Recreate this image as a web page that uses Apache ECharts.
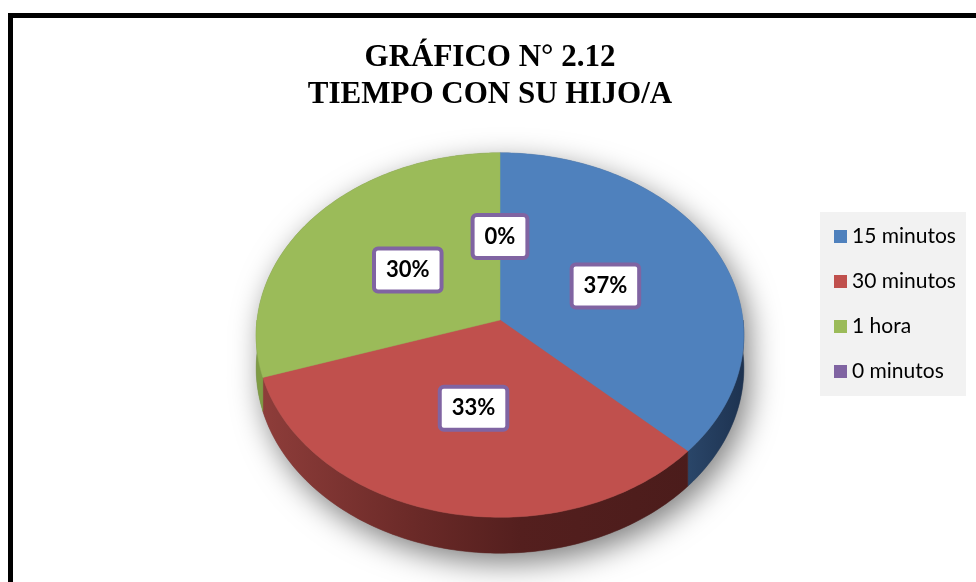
<!DOCTYPE html>
<html>
<head>
<meta charset="utf-8">
<script src="https://cdn.jsdelivr.net/npm/echarts@6/dist/echarts.min.js"></script>
<style>
  html, body { margin: 0; padding: 0; background: #fff; }
  #chart { width: 976px; height: 582px; }
</style>
</head>
<body>
<div id="chart"></div>
<script>
// datos del gráfico
const categories = ['15 minutos', '30 minutos', '1 hora', '0 minutos'];
const values = [37, 33, 30, 0];
const percentLabels = ['37%', '33%', '30%', '0%'];
const topColors = ['#4f81bd', '#c0504d', '#9bbb59', '#8064a2'];

// pastel 3D: proyección con perspectiva
const CX = 500, CY = 320, RX = 243, RY = 181, K = 0.0824, DROP = 33;
const total = values.reduce((a, b) => a + b, 0);

function proj(u, v, drop) {
  const d = 1 / (1 + K * v);
  return [CX + RX * u * d, CY - RY * v * d + drop * d];
}
function arc(from, to, drop, r) {
  // angulos en grados, de from a to
  const pts = [];
  const n = Math.max(2, Math.ceil(Math.abs(to - from)));
  for (let i = 0; i <= n; i++) {
    const t = (from + (to - from) * i / n) * Math.PI / 180;
    pts.push(proj(r * Math.cos(t), r * Math.sin(t), drop));
  }
  return pts;
}

const sideColors = [
  new echarts.graphic.LinearGradient(0, 0, 1, 0, [
    { offset: 0, color: '#2a4669' }, { offset: 1, color: '#1d3250' }
  ]),
  new echarts.graphic.LinearGradient(262, 0, 692, 0, [
    { offset: 0, color: '#8e3d3a' }, { offset: 0.35, color: '#6b2a28' },
    { offset: 0.6, color: '#541f1e' }, { offset: 1, color: '#4b1c1b' }
  ], true),
  '#7f9c44',
  '#4d3a66'
];

function renderSlice(i) {
  return function (params, api) {
    const a0 = 90 - 360 * api.value(0) / total;
    const a1 = 90 - 360 * api.value(1) / total;
    const children = [];
    // lado visible (mitad delantera)
    const hi = Math.min(a0, 0), lo = Math.max(a1, -180);
    if (hi > lo) {
      const topEdge = arc(hi, lo, 0, 1);
      const bottomEdge = arc(lo, hi, DROP, 1);
      children.push({
        type: 'polygon',
        shape: { points: topEdge.concat(bottomEdge) },
        style: { fill: sideColors[i], stroke: sideColors[i], lineWidth: 0.5 }
      });
    }
    // cara superior
    if (a0 > a1) {
      children.push({
        type: 'polygon',
        shape: { points: [[CX, CY]].concat(arc(a0, a1, 0, 1)) },
        style: { fill: topColors[i], stroke: topColors[i], lineWidth: 0.5 }
      });
    }
    const mid = (a0 + a1) / 2 * Math.PI / 180;
    const p = proj(0.48 * Math.cos(mid), 0.48 * Math.sin(mid), 0);
    children.push({
      type: 'text',
      x: p[0], y: p[1],
      z2: 10,
      style: {
        text: percentLabels[i],
        fontFamily: 'Lato', fontSize: 22, fontWeight: 'bold', fill: '#000',
        align: 'center', verticalAlign: 'middle',
        backgroundColor: '#fff', borderColor: '#8064a2', borderWidth: 4, borderRadius: 2,
        padding: [9, 10, 8, 10]
      }
    });
    return { type: 'group', children };
  };
}

const series = [{
  // sombra
  type: 'custom',
  name: 'sombra',
  coordinateSystem: 'none',
  silent: true,
  z: 1,
  data: [[0, total]],
  renderItem: function () {
    const pts = arc(0, 180, 0, 1).concat(arc(180, 360, DROP, 1));
    return {
      type: 'polygon',
      shape: { points: pts },
      style: {
        fill: '#777', shadowBlur: 30, shadowColor: 'rgba(0,0,0,0.5)',
        shadowOffsetX: 6, shadowOffsetY: 10
      }
    };
  }
}];

let cum = 0;
categories.forEach(function (name, i) {
  const start = cum;
  cum += values[i];
  series.push({
    type: 'custom',
    name: name,
    coordinateSystem: 'none',
    z: 2,
    itemStyle: { color: topColors[i] },
    data: [[start, cum, values[i]]],
    renderItem: renderSlice(i)
  });
});

const chart = echarts.init(document.getElementById('chart'));
chart.setOption({
  backgroundColor: '#fff',
  animation: false,
  title: {
    text: 'GRÁFICO N° 2.12\nTIEMPO CON SU HIJO/A',
    left: 485,
    top: 34,
    textAlign: 'center',
    textStyle: {
      fontFamily: 'Liberation Serif', fontWeight: 'bold', fontSize: 31,
      lineHeight: 37, color: '#000'
    }
  },
  legend: {
    data: categories,
    orient: 'vertical',
    left: 820,
    top: 212,
    padding: [14, 10, 14, 14],
    itemGap: 24,
    itemWidth: 13,
    itemHeight: 13,
    icon: 'rect',
    selectedMode: false,
    backgroundColor: '#f2f2f2',
    textStyle: { fontFamily: 'Lato', fontSize: 21, color: '#000' }
  },
  graphic: [{
    type: 'rect',
    shape: { x: 10.5, y: 15.5, width: 1000, height: 700 },
    style: { fill: 'none', stroke: '#000', lineWidth: 5 },
    z: 100
  }],
  series: series
});
</script>
</body>
</html>
